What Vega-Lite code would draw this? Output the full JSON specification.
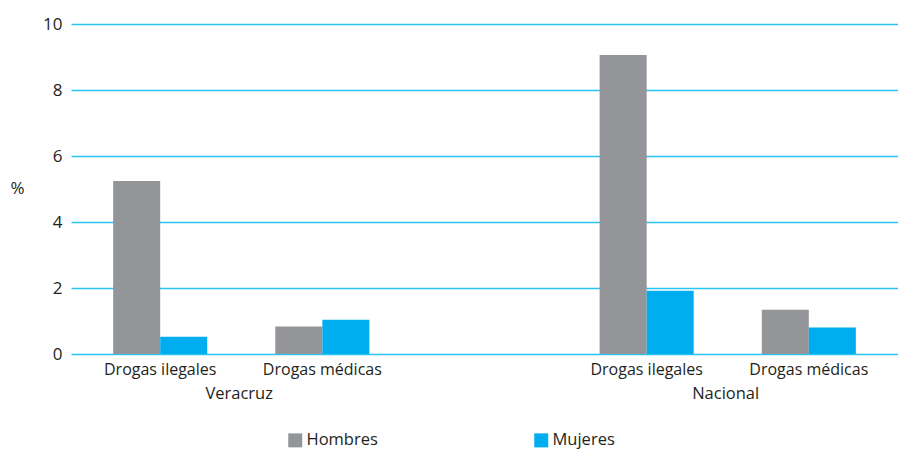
{
  "$schema": "https://vega.github.io/schema/vega-lite/v6.json",
  "width": 827,
  "height": 330,
  "autosize": "none",
  "padding": {"left": 71, "top": 24, "right": 0, "bottom": 96},
  "background": "white",
  "config": {"font": "Open Sans", "view": {"stroke": null}},
  "datasets": {
    "barras": [
      {"pos": "Veracruz · Drogas ilegales", "sexo": "Hombres", "valor": 5.24},
      {"pos": "Veracruz · Drogas ilegales", "sexo": "Mujeres", "valor": 0.52},
      {"pos": "Veracruz · Drogas médicas", "sexo": "Hombres", "valor": 0.83},
      {"pos": "Veracruz · Drogas médicas", "sexo": "Mujeres", "valor": 1.04},
      {"pos": "Nacional · Drogas ilegales", "sexo": "Hombres", "valor": 9.06},
      {"pos": "Nacional · Drogas ilegales", "sexo": "Mujeres", "valor": 1.92},
      {"pos": "Nacional · Drogas médicas", "sexo": "Hombres", "valor": 1.34},
      {"pos": "Nacional · Drogas médicas", "sexo": "Mujeres", "valor": 0.8}
    ],
    "grupos": [
      {"grupo": "Veracruz", "pos": "Veracruz · Drogas ilegales"},
      {"grupo": "Nacional", "pos": "Nacional · Drogas ilegales"}
    ]
  },
  "layer": [
    {
      "data": {"name": "barras"},
      "mark": {"type": "bar"},
      "encoding": {
        "x": {
          "field": "pos",
          "type": "nominal",
          "sort": null,
          "scale": {
            "domain": ["Veracruz · Drogas ilegales", "Veracruz · Drogas médicas", "hueco", "Nacional · Drogas ilegales", "Nacional · Drogas médicas"],
            "paddingInner": 0.42,
            "paddingOuter": 0.26
          },
          "axis": {
            "title": null,
            "domain": false,
            "ticks": false,
            "labelAngle": 0,
            "labelPadding": 7,
            "labelFontSize": 16,
            "labelColor": "#231F20",
            "labelExpr": "indexof(datum.value, 'ilegales') >= 0 ? 'Drogas ilegales' : (indexof(datum.value, 'médicas') >= 0 ? 'Drogas médicas' : '')"
          }
        },
        "xOffset": {
          "field": "sexo",
          "type": "nominal",
          "scale": {"domain": ["Hombres", "Mujeres"], "paddingInner": 0, "paddingOuter": 0}
        },
        "y": {
          "field": "valor",
          "type": "quantitative",
          "scale": {"domain": [0, 10], "nice": false},
          "axis": {
            "values": [0, 2, 4, 6, 8, 10],
            "grid": true,
            "gridColor": "#29C4F4",
            "gridWidth": 1.3,
            "domain": false,
            "ticks": false,
            "labelPadding": 9,
            "labelFontSize": 17,
            "labelColor": "#231F20",
            "title": "%",
            "titleAngle": 0,
            "titleFontWeight": "normal",
            "titleFontSize": 17,
            "titleColor": "#231F20",
            "titleX": -54,
            "titleY": 164,
            "titleAlign": "center",
            "titleBaseline": "middle"
          }
        },
        "color": {
          "field": "sexo",
          "type": "nominal",
          "scale": {"domain": ["Hombres", "Mujeres"], "range": ["#939598", "#00AEEF"]},
          "legend": {
            "orient": "none",
            "legendX": 216,
            "legendY": 408,
            "direction": "horizontal",
            "title": null,
            "symbolType": "square",
            "symbolSize": 196,
            "symbolStrokeWidth": 0,
            "labelFontSize": 16.5,
            "labelOffset": 3,
            "columnPadding": 155,
            "labelColor": "#231F20"
          }
        }
      }
    },
    {
      "data": {"name": "grupos"},
      "mark": {"type": "text", "dx": 79, "dy": 40, "fontSize": 16.5, "color": "#231F20", "align": "center", "baseline": "middle"},
      "encoding": {
        "x": {
          "field": "pos",
          "type": "nominal",
          "sort": null,
          "scale": {
            "domain": ["Veracruz · Drogas ilegales", "Veracruz · Drogas médicas", "hueco", "Nacional · Drogas ilegales", "Nacional · Drogas médicas"],
            "paddingInner": 0.42,
            "paddingOuter": 0.26
          }
        },
        "y": {"datum": 0, "type": "quantitative"},
        "text": {"field": "grupo"}
      }
    }
  ]
}
